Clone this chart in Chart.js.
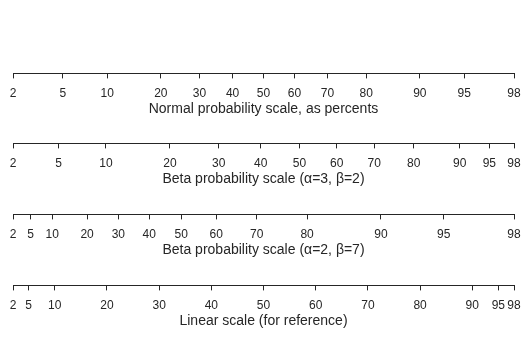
<!DOCTYPE html>
<html>
<head>
<meta charset="utf-8">
<script src="https://cdn.jsdelivr.net/npm/chart.js@4/dist/chart.umd.min.js"></script>
<style>
  html, body { margin: 0; padding: 0; background: #fff; }
  #wrap { position: relative; width: 529px; height: 337px; overflow: hidden; }
  #wrap canvas { position: absolute; left: 0; }
</style>
</head>
<body>
<div id="wrap">
  <canvas id="ax0" width="529" height="140"></canvas>
  <canvas id="ax1" width="529" height="140"></canvas>
  <canvas id="ax2" width="529" height="140"></canvas>
  <canvas id="ax3" width="529" height="140"></canvas>
</div>
<script>
// ---------- Data ----------
const TICK_PCTS = [2, 5, 10, 20, 30, 40, 50, 60, 70, 80, 90, 95, 98];
const AXIS_TITLES = [
  'Normal probability scale, as percents',
  'Beta probability scale (\u03b1=3, \u03b2=2)',
  'Beta probability scale (\u03b1=2, \u03b2=7)',
  'Linear scale (for reference)'
];
const SCALE_KINDS = ['normal', 'beta', 'beta', 'linear'];
const BETA_ALPHA = [null, 3, 2, null];
const BETA_BETA = [null, 2, 7, null];

// layout
const LINE_Y = [73, 143.5, 214, 285];
const INK = '#262626';
const FONT = "'Liberation Sans', Arial, sans-serif";

// ---------- Transforms ----------
// Acklam's inverse normal CDF
function normPpf(p) {
  const a = [-3.969683028665376e+01, 2.209460984245205e+02, -2.759285104469687e+02,
             1.383577518672690e+02, -3.066479806614716e+01, 2.506628277459239e+00];
  const b = [-5.447609879822406e+01, 1.615858368580409e+02, -1.556989798598866e+02,
             6.680131188771972e+01, -1.328068155288572e+01];
  const c = [-7.784894002430293e-03, -3.223964580411365e-01, -2.400758277161838e+00,
             -2.549732539343734e+00, 4.374664141464968e+00, 2.938163982698783e+00];
  const d = [7.784695709041462e-03, 3.224671290700398e-01, 2.445134137142996e+00,
             3.754408661907416e+00];
  const lo = 0.02425, hi = 1 - lo;
  let q, r;
  if (p < lo) {
    q = Math.sqrt(-2 * Math.log(p));
    return (((((c[0]*q+c[1])*q+c[2])*q+c[3])*q+c[4])*q+c[5]) / ((((d[0]*q+d[1])*q+d[2])*q+d[3])*q+1);
  }
  if (p > hi) {
    q = Math.sqrt(-2 * Math.log(1 - p));
    return -(((((c[0]*q+c[1])*q+c[2])*q+c[3])*q+c[4])*q+c[5]) / ((((d[0]*q+d[1])*q+d[2])*q+d[3])*q+1);
  }
  q = p - 0.5; r = q * q;
  return (((((a[0]*r+a[1])*r+a[2])*r+a[3])*r+a[4])*r+a[5])*q / (((((b[0]*r+b[1])*r+b[2])*r+b[3])*r+b[4])*r+1);
}

function binom(n, k) {
  let r = 1;
  for (let i = 1; i <= k; i++) r = r * (n - k + i) / i;
  return r;
}

// beta CDF for integer shape params
function betaCdf(x, a, b) {
  const n = a + b - 1;
  let s = 0;
  for (let j = a; j <= n; j++) s += binom(n, j) * Math.pow(x, j) * Math.pow(1 - x, n - j);
  return s;
}

function betaPpf(p, a, b) {
  let lo = 0, hi = 1;
  for (let i = 0; i < 80; i++) {
    const mid = (lo + hi) / 2;
    if (betaCdf(mid, a, b) < p) lo = mid; else hi = mid;
  }
  return (lo + hi) / 2;
}

function makeTransform(i) {
  if (SCALE_KINDS[i] === 'normal') return pct => normPpf(pct / 100);
  if (SCALE_KINDS[i] === 'beta') return pct => betaPpf(pct / 100, BETA_ALPHA[i], BETA_BETA[i]);
  return pct => pct;
}

// ---------- Charts ----------
AXIS_TITLES.forEach((title, i) => {
  const T = makeTransform(i);
  const canvas = document.getElementById('ax' + i);
  const chart = new Chart(canvas, {
    type: 'scatter',
    data: { datasets: [] },
    options: {
      responsive: false,
      animation: false,
      events: [],
      // bottom padding leaves room for the squeezed title line
      layout: { padding: { left: 13, right: 15, top: 0, bottom: 14 } },
      plugins: { legend: { display: false }, tooltip: { enabled: false } },
      scales: {
        x: {
          type: 'linear',
          min: T(TICK_PCTS[0]),
          max: T(TICK_PCTS[TICK_PCTS.length - 1]),
          afterBuildTicks: s => { s.ticks = TICK_PCTS.map(p => ({ value: T(p) })); },
          ticks: {
            autoSkip: false,
            maxRotation: 0,
            color: INK,
            padding: 8,
            font: { family: FONT, size: 12 },
            callback: (v, idx) => String(TICK_PCTS[idx])
          },
          grid: {
            display: true, drawOnChartArea: false, drawTicks: true,
            tickLength: 5, tickColor: INK, tickWidth: 1, color: INK, lineWidth: 1
          },
          border: { display: true, color: INK, width: 1 },
          title: {
            display: true,
            text: title,
            color: INK,
            font: { family: FONT, size: 14, lineHeight: 0.3 },
            padding: { top: -2, bottom: 0 }
          }
        },
        y: { display: false }
      }
    }
  });
  canvas.style.top = Math.round(LINE_Y[i] - chart.chartArea.bottom) + 'px';
});
</script>
</body>
</html>
